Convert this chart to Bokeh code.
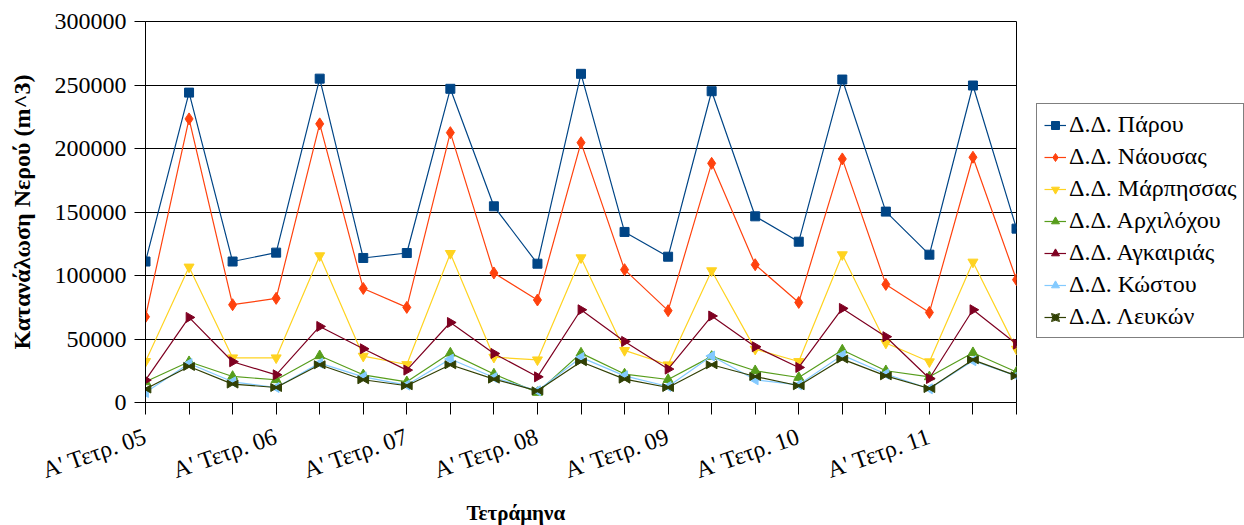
import math
from bokeh.plotting import figure
from bokeh.layouts import row
from bokeh.models import Legend, LegendItem, FixedTicker, Range1d, Title, ColumnDataSource
from bokeh.transform import dodge
from bokeh.embed import file_html
from bokeh.resources import INLINE

years = ["05", "06", "07", "08", "09", "10", "11"]
categories = [f"{t}' Τετρ. {y}" for y in years for t in ["Α", "Β", "Γ"]]
tick_labels = [f"Α' Τετρ. {y}" for y in years]

paros = [111000, 244000, 111000, 118000, 255000, 113800, 117700, 247000, 154500, 109300, 258800,
         134300, 114800, 245100, 146600, 126600, 254300, 150300, 116400, 249600, 136900]
naousa = [67500, 223300, 77000, 82000, 219400, 89800, 74900, 212500, 102000, 80700, 204600,
          104600, 72300, 188300, 108500, 78800, 191800, 93000, 70900, 193100, 96700]
marpissa = [32300, 106700, 35200, 35200, 115600, 36500, 29900, 117400, 35700, 33600, 114000,
            41000, 29700, 103800, 42000, 32300, 116400, 46800, 32100, 110600, 42000]
archilochos = [16300, 32100, 20500, 17900, 36800, 21800, 16300, 38900, 22400, 7900, 38900,
               22400, 18100, 36300, 25000, 19700, 41300, 25000, 20200, 39200, 24000]
agkairia = [17600, 67000, 32100, 21800, 59900, 42300, 25500, 63000, 38600, 20200, 73000,
            48100, 26300, 68100, 43900, 27600, 74100, 51800, 18900, 73000, 46000]
kostos = [7900, 30700, 16300, 11800, 31000, 20200, 13700, 34200, 19700, 9200, 35500,
          21000, 12600, 36600, 17900, 13900, 37300, 22400, 10800, 32900, 21000]
lefkes = [10600, 28400, 14500, 11800, 29700, 17900, 13200, 29700, 18400, 9200, 32100,
          18400, 11800, 29700, 20500, 13200, 34200, 21000, 11000, 33600, 21000]

series_names = ["Δ.Δ. Πάρου", "Δ.Δ. Νάουσας", "Δ.Δ. Μάρπησσας", "Δ.Δ. Αρχιλόχου",
                "Δ.Δ. Αγκαιριάς", "Δ.Δ. Κώστου", "Δ.Δ. Λευκών"]
series_values = [paros, naousa, marpissa, archilochos, agkairia, kostos, lefkes]
colors = ["#004586", "#ff420e", "#ffd320", "#579d1c", "#7e0021", "#83caff", "#314004"]

FONT = "Liberation Serif"
xs = list(range(len(categories)))
yticks = [0, 50000, 100000, 150000, 200000, 250000, 300000]

p = figure(width=1036, height=525, output_backend="svg", toolbar_location=None,
           x_range=Range1d(0, len(categories) - 1), y_range=Range1d(0, 300000),
           min_border_left=145, min_border_right=20, min_border_top=21, min_border_bottom=123)

p.outline_line_color = "black"
p.outline_line_width = 1
p.background_fill_color = "white"
p.border_fill_color = "white"

p.xgrid.visible = False
p.ygrid.grid_line_color = "black"
p.ygrid.grid_line_width = 1
p.ygrid.ticker = FixedTicker(ticks=yticks)

p.yaxis.ticker = FixedTicker(ticks=yticks)
p.yaxis.formatter.use_scientific = False
p.yaxis.major_label_text_font = FONT
p.yaxis.major_label_text_font_size = "24px"
p.yaxis.major_label_text_color = "black"
p.yaxis.major_tick_out = 11
p.yaxis.major_tick_in = 0
p.yaxis.minor_tick_line_color = None
p.yaxis.major_label_standoff = 8
p.yaxis.axis_line_color = "black"
p.yaxis.major_tick_line_color = "black"
p.yaxis.axis_label = "Κατανάλωση Νερού (m^3)"
p.yaxis.axis_label_text_font = FONT
p.yaxis.axis_label_text_font_style = "bold"
p.yaxis.axis_label_text_font_size = "24px"
p.yaxis.axis_label_text_color = "black"
p.yaxis.axis_label_standoff = 17

p.xaxis.ticker = FixedTicker(ticks=xs)
p.xaxis.major_label_overrides = {i: (categories[i] if categories[i] in tick_labels else "") for i in xs}
p.xaxis.major_label_orientation = math.radians(19)
p.xaxis.major_label_text_font = FONT
p.xaxis.major_label_text_font_size = "24px"
p.xaxis.major_label_text_color = "black"
p.xaxis.major_tick_out = 12
p.xaxis.major_tick_in = 0
p.xaxis.minor_tick_line_color = None
p.xaxis.axis_line_color = "black"
p.xaxis.major_tick_line_color = "black"
p.xaxis.major_label_standoff = 21

# legend figure: its ranges lie outside the data, so only the legend shows
lg = figure(width=208, height=525, output_backend="svg", toolbar_location=None, title=None,
            x_range=Range1d(1000, 1001), y_range=Range1d(-2, -1),
            min_border_left=0, min_border_right=0, min_border_top=21, min_border_bottom=123,
            outline_line_color=None)
lg.axis.visible = False
lg.grid.visible = False

items = []
for k, (name, vals, col) in enumerate(zip(series_names, series_values, colors)):
    src = ColumnDataSource(dict(x=xs, y=vals))
    p.line("x", "y", source=src, line_color=col, line_width=1.2)
    rs = [lg.line("x", "y", source=src, line_color=col, line_width=1.2)]
    if k == 0:
        kw = dict(marker="square", size=9)
    elif k == 1:
        kw = dict(marker="diamond", size=12)
    elif k == 2:
        kw = dict(marker="inverted_triangle", size=10)
    elif k == 3:
        kw = dict(marker="triangle", size=10)
    elif k == 4:
        kw = dict(marker="triangle", angle=-math.pi / 2, size=10)
    elif k == 5:
        kw = dict(marker="triangle", angle=math.pi / 2, size=10)
    else:
        kw = None
    if kw is not None:
        p.scatter("x", "y", source=src, fill_color=col, line_color=col, **kw)
        rs.append(lg.scatter("x", "y", source=src, fill_color=col, line_color=col, **kw))
    else:
        p.scatter(dodge("x", -0.07, range=p.x_range), "y", source=src, marker="triangle",
                  angle=-math.pi / 2, size=8, fill_color=col, line_color=col)
        p.scatter(dodge("x", 0.07, range=p.x_range), "y", source=src, marker="triangle",
                  angle=math.pi / 2, size=8, fill_color=col, line_color=col)
        rs.append(lg.scatter("x", "y", source=src, marker="square_pin",
                             size=10, fill_color=col, line_color=col))
    items.append(LegendItem(label=name, renderers=rs))

legend = Legend(items=items, location=(0, 64))
legend.label_text_font = FONT
legend.label_text_font_size = "24px"
legend.label_text_color = "black"
legend.border_line_color = "black"
legend.border_line_width = 1
legend.background_fill_color = "white"
legend.glyph_width = 22
legend.glyph_height = 20
legend.label_height = 20
legend.label_standoff = 3
legend.spacing = 5
legend.padding = 7
legend.margin = 0
lg.add_layout(legend, "center")

xt = Title(text="Τετράμηνα", align="left", offset=321, standoff=0,
           text_font=FONT, text_font_style="bold", text_font_size="21px", text_color="black")
p.add_layout(xt, "below")

layout = row(p, lg, spacing=0)
open("out.html", "w").write(file_html(layout, INLINE))
